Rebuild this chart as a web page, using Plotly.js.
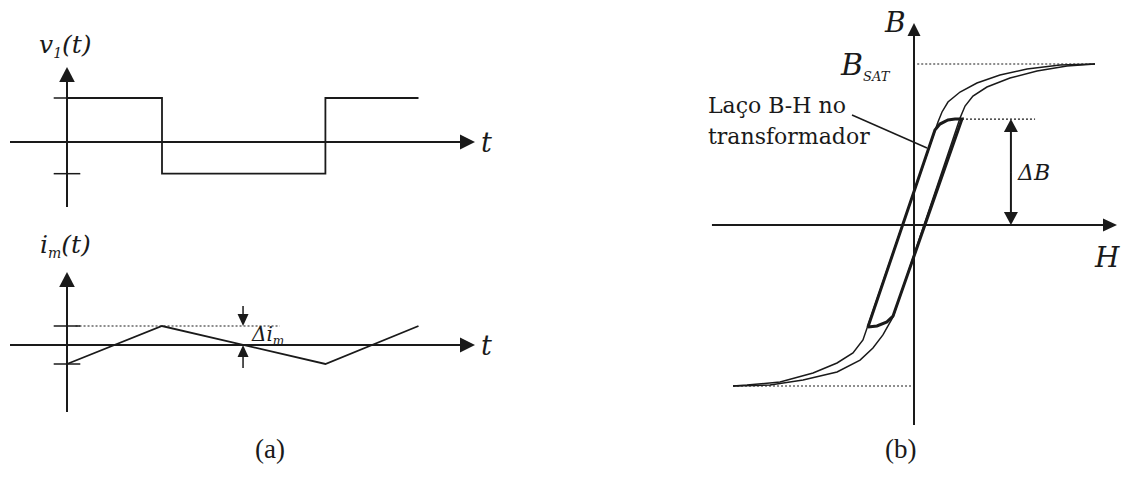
<!DOCTYPE html>
<html>
<head>
<meta charset="utf-8">
<script src="https://cdn.plot.ly/plotly-3.0.1.min.js"></script>
<style>
  html, body { margin: 0; padding: 0; background: #fff; }
  #fig { width: 1121px; height: 498px; }
</style>
</head>
<body>
<div id="fig"></div>
<script>
var FIG_W = 1121, FIG_H = 498;
var ink = '#1a1a1a';
var serif = 'DejaVu Serif, serif';

// (a) top: primary voltage v1(t), square wave (time in units of the first interval)
var vTime = [0, 1, 1, 2.72, 2.72, 3.7];
var vLevel = [1, 1, -0.72, -0.72, 1, 1];
var vTicks = [1, -0.72];

// (a) bottom: magnetising current im(t), triangle
var iTime = [0, 1, 2.72, 3.7];
var iLevel = [-1, 1, -1, 1];
var iTicks = [1, -1];
var iDeltaAt = 1.853;   // where the delta-im arrows sit (zero crossing)

// (b) major B-H loop, H and B normalised to B_SAT
var hDown = [1.124, 0.907, 0.702, 0.534, 0.391, 0.286, 0.211, 0.174, 0.149, -0.286, -0.317, -0.379, -0.478, -0.627, -0.832, -1.037, -1.124];
var bDown = [1.0, 0.994, 0.969, 0.932, 0.882, 0.826, 0.764, 0.702, 0.640, -0.634, -0.714, -0.795, -0.857, -0.919, -0.975, -0.994, -1.0];
var hUp = [-1.124, -0.894, -0.689, -0.478, -0.335, -0.255, -0.193, -0.130, 0.286, 0.317, 0.366, 0.453, 0.596, 0.764, 0.950, 1.124];
var bUp = [-1.0, -0.994, -0.963, -0.913, -0.839, -0.764, -0.683, -0.571, 0.665, 0.739, 0.801, 0.857, 0.913, 0.957, 0.988, 1.0];

// (b) minor loop traced by the transformer
var hLoop = [-0.286, 0.130, 0.161, 0.211, 0.255, 0.298, -0.130, -0.168, -0.230, -0.286];
var bLoop = [-0.634, 0.590, 0.627, 0.652, 0.658, 0.658, -0.565, -0.602, -0.627, -0.634];

var bSat = 1.0;
var deltaB = 0.658;
var deltaBAt = 0.602;

// pixel box + origin + px-per-unit -> a hidden axis pair
function panel(box, origin, scale) {
  return {
    sx: scale[0], sy: scale[1],
    x: {
      domain: [box[0] / FIG_W, box[1] / FIG_W],
      range: [(box[0] - origin[0]) / scale[0], (box[1] - origin[0]) / scale[0]],
      visible: false, fixedrange: true
    },
    y: {
      domain: [1 - box[3] / FIG_H, 1 - box[2] / FIG_H],
      range: [(origin[1] - box[3]) / scale[1], (origin[1] - box[2]) / scale[1]],
      visible: false, fixedrange: true
    }
  };
}

var panels = {
  '': panel([0, 520, 15, 215], [67, 142], [95, 44]),
  '2': panel([0, 520, 215, 425], [67, 345], [95, 19]),
  '3': panel([690, 1121, 0, 440], [914, 225], [161, 161])
};

function line(xs, ys, ax, w, dash) {
  return {
    x: xs, y: ys, xaxis: 'x' + ax, yaxis: 'y' + ax,
    mode: 'lines', hoverinfo: 'skip',
    line: {color: ink, width: w, dash: dash || 'solid'}
  };
}

function ticks(vals, ax) {
  return {
    x: vals.map(function() { return 0; }), y: vals,
    xaxis: 'x' + ax, yaxis: 'y' + ax, mode: 'markers', hoverinfo: 'skip',
    marker: {symbol: 'line-ew', size: 19, line: {color: ink, width: 1.5}}
  };
}

var dots = '2px,2px';

var traces = [
  line(vTime, vLevel, '', 1.8),
  ticks(vTicks, ''),
  line(iTime, iLevel, '2', 1.8),
  ticks(iTicks, '2'),
  line([0.09, 2.24], [iLevel[1], iLevel[1]], '2', 1.2, dots),
  line([0.02, 1.124], [bSat, bSat], '3', 1.2, dots),
  line([-1.124, -0.006], [-bSat, -bSat], '3', 1.2, dots),
  line([hLoop[5], 0.752], [deltaB, deltaB], '3', 1.2, dots),
  line(hDown, bDown, '3', 1.5),
  line(hUp, bUp, '3', 1.5),
  line(hLoop, bLoop, '3', 3),
  line([-0.385, 0.081], [0.683, 0.478], '3', 1.5)
];

// filled arrow head (pixel sized) with its tip on a data point
function head(ax, tip, dir, len, half) {
  var paths = {
    up: 'M0,0L' + (-half) + ',' + (-len) + 'L' + half + ',' + (-len) + 'Z',
    down: 'M0,0L' + (-half) + ',' + len + 'L' + half + ',' + len + 'Z',
    right: 'M0,0L' + (-len) + ',' + half + 'L' + (-len) + ',' + (-half) + 'Z'
  };
  return {
    type: 'path', xref: 'x' + ax, yref: 'y' + ax,
    xsizemode: 'pixel', ysizemode: 'pixel', xanchor: tip[0], yanchor: tip[1],
    path: paths[dir], fillcolor: ink, line: {width: 0}
  };
}

// shaft from tail to a few px short of the tip, plus the head
function arrow(ax, tail, tip, dir, len, half, width) {
  var p = panels[ax];
  var back = {up: [0, -6 / p.sy], down: [0, 6 / p.sy], right: [-6 / p.sx, 0]}[dir];
  return [
    {type: 'line', xref: 'x' + ax, yref: 'y' + ax,
     x0: tail[0], y0: tail[1], x1: tip[0] + back[0], y1: tip[1] + back[1],
     line: {color: ink, width: width}},
    head(ax, tip, dir, len, half)
  ];
}

var shapes = [].concat(
  arrow('', [-0.6, 0], [4.295, 0], 'right', 15, 7.5, 2),
  arrow('', [0, -1.477], [0, 1.705], 'up', 15, 7.8, 2),
  arrow('2', [-0.6, 0], [4.295, 0], 'right', 15, 7.5, 2),
  arrow('2', [0, -3.526], [0, 3.842], 'up', 15, 7.8, 2),
  arrow('3', [-1.255, 0], [1.261, 0], 'right', 14, 6.5, 2),
  arrow('3', [0, -1.242], [0, 1.255], 'up', 13, 6.5, 2),
  // delta-im pointers
  arrow('2', [iDeltaAt, 2.05], [iDeltaAt, iLevel[1]], 'down', 12, 5.5, 1.5),
  arrow('2', [iDeltaAt, -1.21], [iDeltaAt, 0], 'up', 12, 5.5, 1.5),
  // delta-B span, heads at both ends
  arrow('3', [deltaBAt, deltaB / 2], [deltaBAt, deltaB], 'up', 13, 7, 2),
  arrow('3', [deltaBAt, deltaB / 2], [deltaBAt, 0], 'down', 13, 7, 2)
);

function label(ax, x, y, txt, size, anchor) {
  return {
    xref: 'x' + ax, yref: 'y' + ax, x: x, y: y, text: txt,
    showarrow: false, xanchor: anchor || 'center', yanchor: 'middle',
    font: {family: serif, size: size, color: ink}
  };
}

function sub(txt, px) {
  return '<sub><span style="font-size:' + px + 'px"><i>' + txt + '</i></span></sub>';
}

var annotations = [
  label('', -0.02, 2.2, '<i>v</i>' + sub('1', 14) + '<i>(t)</i>', 25),
  label('', 4.42, 0, '<i>t</i>', 27),
  label('2', -0.02, 5.26, '<i>i</i>' + sub('m', 14) + '<i>(t)</i>', 25),
  label('2', 4.42, 0, '<i>t</i>', 27),
  label('2', 1.916, 0.55, '<i>Δi</i>' + sub('m', 12), 20, 'left'),
  label('3', -0.118, 1.255, '<i>B</i>', 28),
  label('3', 1.199, -0.199, '<i>H</i>', 28),
  label('3', -0.13, 0.99, '<i>B</i>' + sub('SAT', 13), 30, 'right'),
  label('3', 0.745, 0.329, '<i>ΔB</i>', 22),
  label('3', -1.292, 0.745, 'Laço B-H no', 22, 'left'),
  label('3', -1.292, 0.547, 'transformador', 22, 'left'),
  {xref: 'paper', yref: 'paper', x: 253 / FIG_W, y: 1 - 466 / FIG_H, text: '(a)', showarrow: false,
   font: {family: 'Liberation Serif, serif', size: 27, color: ink}},
  {xref: 'paper', yref: 'paper', x: 918 / FIG_W, y: 1 - 466 / FIG_H, text: '(b)', showarrow: false,
   font: {family: 'Liberation Serif, serif', size: 27, color: ink}}
];

var layout = {
  width: FIG_W, height: FIG_H,
  margin: {l: 0, r: 0, t: 0, b: 0},
  paper_bgcolor: 'white', plot_bgcolor: 'white',
  showlegend: false,
  xaxis: panels[''].x, yaxis: panels[''].y,
  xaxis2: panels['2'].x, yaxis2: panels['2'].y,
  xaxis3: panels['3'].x, yaxis3: panels['3'].y,
  shapes: shapes,
  annotations: annotations
};

Plotly.newPlot('fig', traces, layout, {displayModeBar: false, staticPlot: true});
</script>
</body>
</html>
